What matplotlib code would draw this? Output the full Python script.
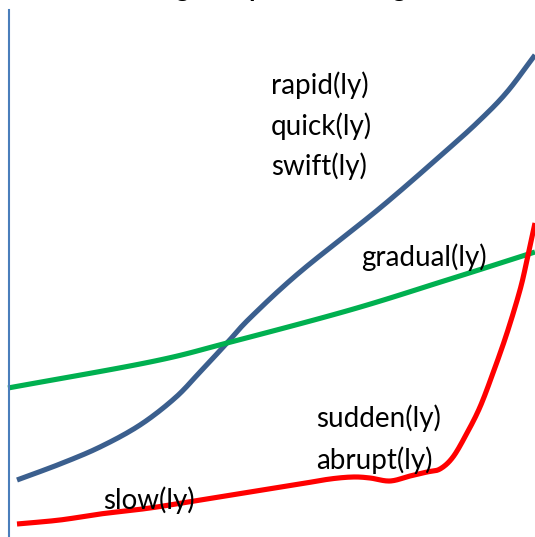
import matplotlib.pyplot as plt
import numpy as np

# curves, in pixel-ish units (x right, y down from top)
H = 537
blue_x = [17, 60, 100, 140, 175, 200, 227, 250, 300, 380, 447, 480, 507, 535]
blue_y = [480, 464, 447, 425, 398, 372, 343, 318, 272, 208, 150, 120, 92, 55]

green_x = [8, 150, 227, 350, 447, 535]
green_y = [388, 362, 343, 310, 280, 252]

red_x = [17, 60, 100, 150, 200, 250, 300, 330, 353, 370, 390, 410, 427, 440, 453, 467, 480, 493, 507, 520, 527, 535]
red_y = [524, 520, 514, 508, 500, 492, 484, 479, 477, 478, 481, 476, 472, 469, 457, 433, 407, 373, 333, 290, 260, 223]

labels = ["rapid(ly)", "quick(ly)", "swift(ly)", "gradual(ly)", "sudden(ly)", "abrupt(ly)", "slow(ly)"]
label_x = [271, 271, 271, 361, 316, 316, 103]
label_y = [85, 126, 166, 257, 418, 460, 500]

title = "Describing the speed of change"

plt.rcParams['font.family'] = ['Lato', 'DejaVu Sans']


def smooth(xs, ys, n=20):
    # catmull-rom through the read points, like a smoothed office line
    p = np.column_stack([xs, ys]).astype(float)
    p = np.vstack([2 * p[0] - p[1], p, 2 * p[-1] - p[-2]])
    out = []
    t = np.linspace(0, 1, n, endpoint=False)[:, None]
    for i in range(1, len(p) - 2):
        p0, p1, p2, p3 = p[i - 1], p[i], p[i + 1], p[i + 2]
        seg = 0.5 * ((2 * p1) + (-p0 + p2) * t + (2 * p0 - 5 * p1 + 4 * p2 - p3) * t ** 2
                     + (-p0 + 3 * p1 - 3 * p2 + p3) * t ** 3)
        out.append(seg)
    out.append(p[-2][None, :])
    out = np.vstack(out)
    return out[:, 0], out[:, 1]


fig = plt.figure(figsize=(5.35, 5.37), dpi=100)
ax = fig.add_axes([0, 0, 1, 1])
ax.set_xlim(0, 535)
ax.set_ylim(H, 0)
ax.axis('off')

for xs, ys, c in [(blue_x, blue_y, '#3b5f8e'), (green_x, green_y, '#00b050'), (red_x, red_y, '#ff0000')]:
    sx, sy = smooth(xs, ys)
    ax.plot(sx, sy, color=c, lw=3.7, solid_capstyle='butt', solid_joinstyle='round')

# vertical axis line
ax.plot([9, 9], [H, 10], color='#4a7ebb', lw=1.5)

for t, x, y in zip(labels, label_x, label_y):
    ax.text(x, y, t, fontsize=20, ha='left', va='center', color='black')

fig.text(0.458, 1 + 3 / H, title, ha='center', va='baseline', fontsize=18, fontweight='bold')

fig.savefig('out.png', dpi=100)
